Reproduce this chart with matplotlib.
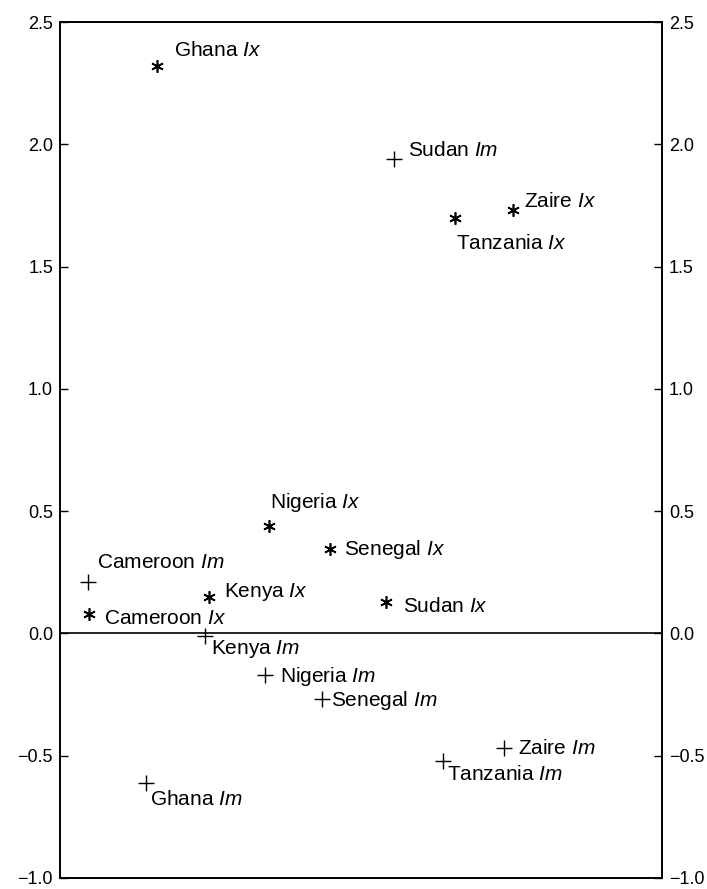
import matplotlib.pyplot as plt
import numpy as np

plt.rcParams.update(
    {
        "font.family": "Liberation Sans",
        "mathtext.fontset": "custom",
        "mathtext.rm": "Liberation Sans",
        "mathtext.it": "Liberation Sans:italic",
        "axes.linewidth": 1.4,
    }
)

# Ix points (asterisks)
ix_names = ["Ghana", "Zaire", "Tanzania", "Nigeria", "Senegal", "Kenya", "Sudan", "Cameroon"]
ix_x = [0.161, 0.752, 0.656, 0.348, 0.449, 0.248, 0.541, 0.048]
ix_y = [2.32, 1.73, 1.70, 0.44, 0.345, 0.15, 0.13, 0.08]

# Im points (plus signs)
im_names = ["Sudan", "Cameroon", "Kenya", "Nigeria", "Senegal", "Zaire", "Tanzania", "Ghana"]
im_x = [0.554, 0.047, 0.241, 0.341, 0.436, 0.737, 0.637, 0.143]
im_y = [1.94, 0.21, -0.01, -0.17, -0.27, -0.47, -0.52, -0.61]

y_ticks = [-1.0, -0.5, 0.0, 0.5, 1.0, 1.5, 2.0, 2.5]

# label offsets in pixels
ix_offsets = [(17, 16), (11, 9), (1, -26), (1, 23), (14, 0), (15, 5), (17, -5), (15, -5)]
im_offsets = [(14, 8), (9, 20), (6, -13), (15, -1), (9, -1), (14, 0), (4, -14), (4, -17)]

fig = plt.figure(figsize=(7.07, 8.89), dpi=100)
ax = fig.add_axes([60 / 707, 11 / 889, 602 / 707, 856 / 889])

ax.plot(ix_x, ix_y, linestyle="none", marker=(6, 2, 0), markersize=9,
        markeredgewidth=1.2, color="black")
ax.plot(im_x, im_y, linestyle="none", marker="+", markersize=11,
        markeredgewidth=1.0, color="black")

for name, x, y, (dx, dy) in zip(ix_names, ix_x, ix_y, ix_offsets):
    ax.annotate(f"{name} $Ix$", (x, y), xytext=(dx, dy), textcoords="offset pixels",
                ha="left", va="center", fontsize=15)
for name, x, y, (dx, dy) in zip(im_names, im_x, im_y, im_offsets):
    ax.annotate(f"{name} $Im$", (x, y), xytext=(dx, dy), textcoords="offset pixels",
                ha="left", va="center", fontsize=15)

ax.axhline(0, color="black", linewidth=1.2)

ax.set_xlim(0, 1)
ax.set_ylim(-1.0, 2.5)
ax.set_xticks([])
ax.set_yticks(y_ticks)
ax.set_yticklabels([f"{v:.1f}".replace("-", "\u2212") for v in y_ticks])
ax.tick_params(axis="y", which="both", left=True, right=True, labelleft=True,
               labelright=True, direction="in", length=6, width=1.0, labelsize=13,
               pad=5)

fig.savefig("out.png", dpi=100, facecolor="white")
